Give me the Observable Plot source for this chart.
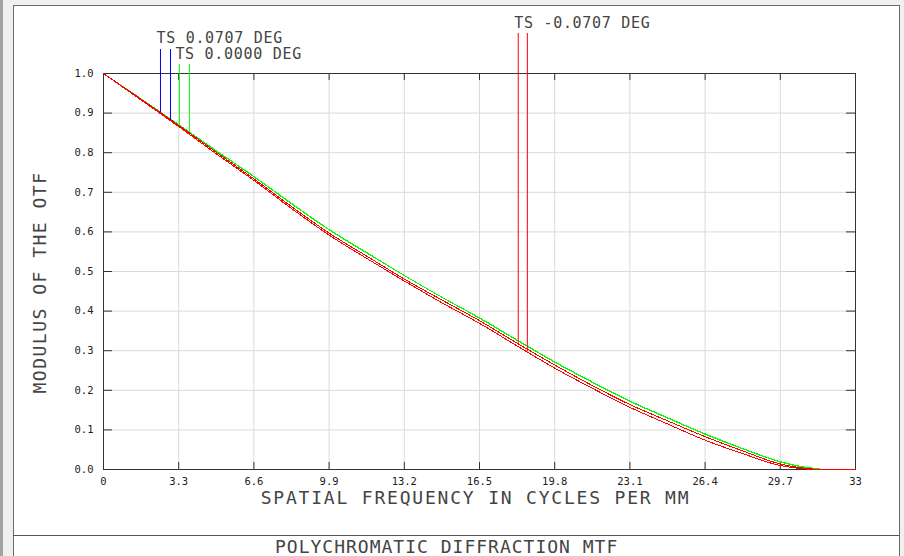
<!DOCTYPE html>
<html>
<head>
<meta charset="utf-8">
<script src="https://cdn.jsdelivr.net/npm/d3@7"></script>
<script src="https://cdn.jsdelivr.net/npm/@observablehq/plot@0.6"></script>
<style>
  html, body { margin: 0; padding: 0; }
  body { width: 904px; height: 556px; overflow: hidden; background: #f0f0f0; position: relative; font-family: "DejaVu Sans Mono", monospace; }
  #edge { position: absolute; left: 0; top: 0; width: 3px; height: 556px; background: #a3a3a3; }
  #panel { position: absolute; left: 13px; top: 5px; width: 885px; height: 600px; background: #fff; border: 1px solid #6a6a6a; }
  #sep { position: absolute; left: 13px; top: 535px; width: 886px; height: 1px; background: #555; }
  #chart { position: absolute; left: 0; top: 0; }
  #title { position: absolute; left: 275px; top: 537px; font-size: 18px; line-height: 20px; letter-spacing: 1px; color: #444; white-space: nowrap; }
</style>
</head>
<body>
<div id="edge"></div>
<div id="panel"></div>
<div id="sep"></div>
<div id="chart"></div>
<div id="title">POLYCHROMATIC DIFFRACTION MTF</div>
<script>
// Spatial frequency samples (cycles per mm)
const freq = [0, 1.65, 3.3, 4.95, 6.6, 8.25, 9.9, 11.55, 13.2, 14.85, 16.5, 18.15, 19.8, 21.45, 23.1, 24.75, 26.4, 28.05, 29.7, 30.5, 31.2, 31.5, 31.8, 33];

// Modulus of the OTF, tangential (T) and sagittal (S), per field
const blueT  = [1.000, 0.935, 0.869, 0.801, 0.734, 0.664, 0.597, 0.539, 0.481, 0.428, 0.376, 0.319, 0.264, 0.212, 0.164, 0.123, 0.083, 0.047, 0.014, 0.005, 0.001, 0, 0, 0];
const blueS  = [1.000, 0.933, 0.866, 0.797, 0.730, 0.659, 0.592, 0.533, 0.476, 0.421, 0.369, 0.312, 0.256, 0.205, 0.157, 0.115, 0.074, 0.040, 0.010, 0.003, 0, 0, 0, 0];
const greenT = [1.000, 0.936, 0.871, 0.805, 0.740, 0.672, 0.606, 0.548, 0.490, 0.435, 0.382, 0.326, 0.271, 0.220, 0.172, 0.130, 0.089, 0.052, 0.019, 0.008, 0.002, 0.001, 0, 0];
const greenS = [1.000, 0.936, 0.870, 0.804, 0.739, 0.671, 0.605, 0.547, 0.490, 0.435, 0.383, 0.327, 0.272, 0.221, 0.173, 0.131, 0.090, 0.053, 0.020, 0.009, 0.003, 0.001, 0, 0];
const redT   = [1.000, 0.935, 0.869, 0.801, 0.734, 0.664, 0.597, 0.539, 0.481, 0.428, 0.376, 0.319, 0.264, 0.212, 0.164, 0.123, 0.083, 0.047, 0.014, 0.005, 0.001, 0, 0, 0];
const redS   = [1.000, 0.933, 0.866, 0.797, 0.730, 0.659, 0.592, 0.533, 0.476, 0.421, 0.369, 0.312, 0.256, 0.205, 0.157, 0.115, 0.074, 0.040, 0.010, 0.003, 0, 0, 0, 0];

// Axis ticks and their labels
const xTicks = [0, 3.3, 6.6, 9.9, 13.2, 16.5, 19.8, 23.1, 26.4, 29.7, 33];
const xTickLabels = ["0", "3.3", "6.6", "9.9", "13.2", "16.5", "19.8", "23.1", "26.4", "29.7", "33"];
const yTicks = [0, 0.1, 0.2, 0.3, 0.4, 0.5, 0.6, 0.7, 0.8, 0.9, 1.0];
const yTickLabels = ["0.0", "0.1", "0.2", "0.3", "0.4", "0.5", "0.6", "0.7", "0.8", "0.9", "1.0"];

// Field labels and the frequencies where their T / S leaders touch the curves
const fieldNames = ["TS 0.0707 DEG", "TS 0.0000 DEG", "TS -0.0707 DEG"];
const fieldColors = ["#0000ff", "#00ff00", "#ff0000"];
const leaderFreqs = [[2.5, 2.94], [3.33, 3.77], [18.2, 18.6]];

const xTitle = "SPATIAL FREQUENCY IN CYCLES PER MM";
const yTitle = "MODULUS OF THE OTF";

const series = [
  {values: blueT, color: fieldColors[0]},
  {values: blueS, color: fieldColors[0]},
  {values: greenT, color: fieldColors[1]},
  {values: greenS, color: fieldColors[1]},
  {values: redT, color: fieldColors[2]},
  {values: redS, color: fieldColors[2]}
];
const rows = (values) => freq.map((f, i) => ({f, v: values[i]}));

// value of a sampled curve at frequency f (for placing leader ends on the curve)
function valueAt(values, f) {
  const i = Math.min(Math.max(d3.bisectRight(freq, f), 1), freq.length - 1);
  const t = (f - freq[i - 1]) / (freq[i] - freq[i - 1]);
  return values[i - 1] + t * (values[i] - values[i - 1]);
}
const leaders = fieldNames.map((name, k) => leaderFreqs[k].map((f, j) => ({
  f, v: valueAt(series[2 * k + j].values, f)
})));
const leaderRise = [24, 9, 40];
const labelDy = [-35, -19, -50];

const W = 904, H = 535;
const plotW = 752, plotH = 396;

const marks = [
  Plot.ruleX(xTicks, {stroke: "#dadada"}),
  Plot.ruleY(yTicks, {stroke: "#dadada"}),
  Plot.ruleX(xTicks, {stroke: "#333", insetTop: plotH - 7}),
  Plot.ruleX(xTicks, {stroke: "#333", insetBottom: plotH - 7}),
  Plot.ruleY(yTicks, {stroke: "#333", insetRight: plotW - 9}),
  Plot.ruleY(yTicks, {stroke: "#333", insetLeft: plotW - 9}),
  Plot.frame({stroke: "#333"}),
  ...series.map(s => Plot.line(rows(s.values), {x: "f", y: "v", stroke: s.color, strokeWidth: 1, curve: "monotone-x", shapeRendering: "crispEdges"})),
  ...leaders.map((L, k) => Plot.ruleX(L, {x: "f", y1: () => 1, y2: "v", stroke: fieldColors[k], strokeWidth: 1, insetTop: -leaderRise[k]})),
  ...fieldNames.map((name, k) => Plot.text([name], {x: () => leaderFreqs[k][0], y: () => 1, text: d => d, textAnchor: "start", dx: -4, dy: labelDy[k], fontSize: 15, fill: "#444"})),
  Plot.text(xTicks, {x: d => d, frameAnchor: "bottom", text: (d, i) => xTickLabels[i], dy: 15, fontSize: 10.5, fill: "#222"}),
  Plot.text(yTicks, {y: d => d, frameAnchor: "left", text: (d, i) => yTickLabels[i], textAnchor: "end", dx: -10, fontSize: 10.5, fill: "#222"}),
  Plot.text([xTitle], {frameAnchor: "bottom", text: d => d, textAnchor: "middle", dy: 34, dx: -4, fontSize: 18, fill: "#444"}),
  Plot.text([yTitle], {frameAnchor: "left", text: d => d, textAnchor: "middle", rotate: -90, dx: -63, dy: 11, fontSize: 18, fill: "#444"})
];

const svg = Plot.plot({
  width: W,
  height: H,
  marginLeft: 103,
  marginRight: W - 855,
  marginTop: 73,
  marginBottom: H - 469,
  x: {domain: [0, 33], axis: null},
  y: {domain: [0, 1], axis: null},
  style: {background: "transparent", fontFamily: "\"DejaVu Sans Mono\", monospace", overflow: "visible"},
  marks
});

// widen the stroke-font style lettering
const spacing = new Map([[xTitle, "1.8px"], [yTitle, "1.5px"], ...fieldNames.map(n => [n, "0.7px"])]);
d3.select(svg).selectAll("text").each(function () {
  const s = spacing.get(this.textContent);
  if (s) this.setAttribute("letter-spacing", s);
});

document.getElementById("chart").appendChild(svg);
</script>
</body>
</html>
